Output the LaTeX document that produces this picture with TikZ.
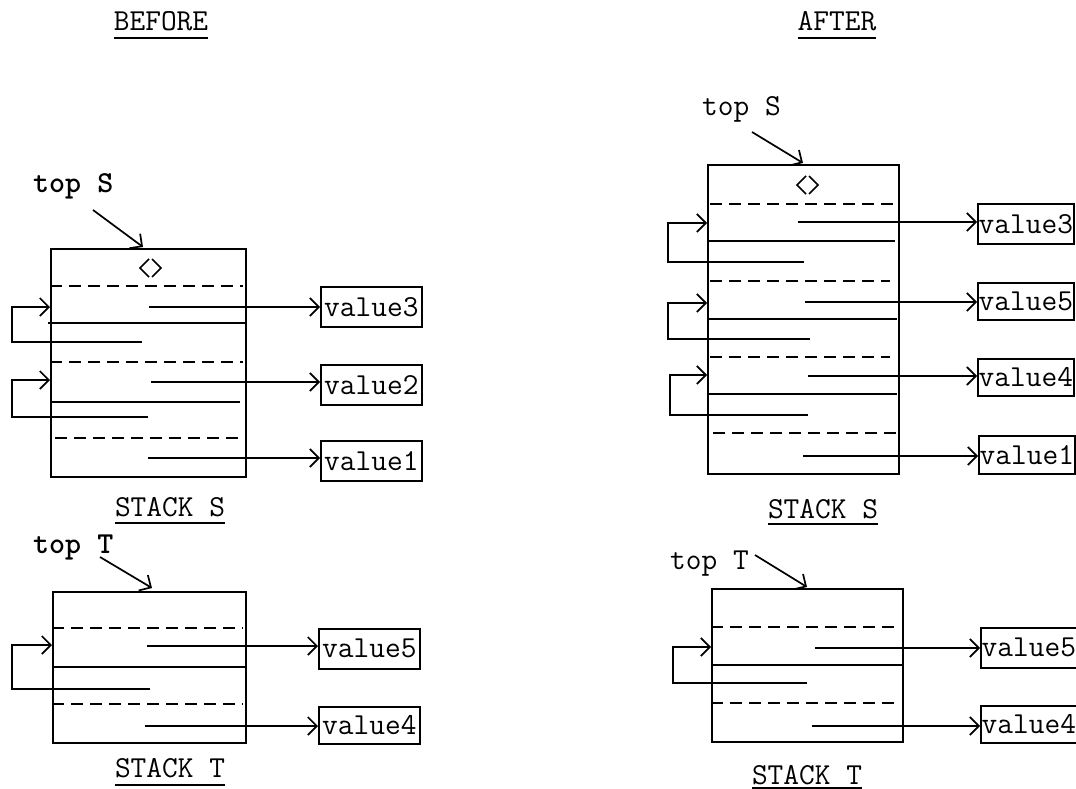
\documentclass[tikz,border=0pt]{standalone}
\usepackage{fontspec}
\usetikzlibrary{arrows.meta}
\tikzset{
  ln/.style={line width=1.7pt},
  dsh/.style={line width=1.5pt, dash pattern=on 12pt off 7pt},
  ptr/.style={line width=1.7pt, -{Straight Barb[length=9pt,width=18pt,line width=1.7pt]}},
  txt/.style={font=\ttfamily\fontsize{30.5}{32}\selectfont, inner sep=0pt},
  valbox/.style={txt, draw, line width=1.7pt, anchor=north west, minimum width=101pt, minimum height=40pt, inner xsep=1pt},
  valboxr/.style={valbox, minimum width=96pt, inner xsep=0.5pt},
  stackbox/.style={draw, line width=1.7pt, anchor=north west, inner sep=0pt},
  diam/.pic={\draw[ln] (-1,-9) -- (-10,0) -- (-1,9); \draw[ln] (2,-9) -- (11,0) -- (2,9);}
}
\begin{document}
\begin{tikzpicture}[x=1pt,y=-1pt]
\useasboundingbox (0,0) rectangle (1076,789);

% titles
\node[txt, anchor=base] (tB) at (161,31) {BEFORE};
\draw[ln] ([yshift=-7pt]tB.base west) -- ([yshift=-7pt]tB.base east);
\node[txt, anchor=base] (tA) at (837,31) {AFTER};
\draw[ln] ([yshift=-7pt]tA.base west) -- ([yshift=-7pt]tA.base east);

% ================= BEFORE: STACK S =================
\node[stackbox, minimum width=195pt, minimum height=228pt] (bS) at (50,248) {};
\node[txt, anchor=base west, font=\ttfamily\bfseries\fontsize{30.5}{32}\selectfont] (btS) at (33,192) {top S};
\coordinate (btSa) at (93,210);
\draw[ptr] (btSa) -- (143,247);
\pic at (150,268) {diam};
\node[valbox] (bv3) at (320,286) {value3};
\node[valbox] (bv2) at (320,364) {value2};
\node[valbox] (bv1) at (320,440) {value1};
\draw[dsh] (50,286) -- (243,286);
\coordinate (bs1) at (149,307);
\draw[ptr] (bs1) -- (bs1 -| bv3.west);
\draw[ln] (48,323) -- (245,323);
\coordinate (bl1) at (142,342);
\draw[ptr] (bl1) -- (12,342) -- (12,307) -- (50,307);
\draw[dsh] (50,362) -- (243,362);
\coordinate (bs2) at (151,382);
\draw[ptr] (bs2) -- (bs2 -| bv2.west);
\draw[ln] (50,402) -- (240,402);
\coordinate (bl2) at (148,417);
\draw[ptr] (bl2) -- (12,417) -- (12,380) -- (50,380);
\draw[dsh] (55,438) -- (243,438);
\coordinate (bs3) at (148,458);
\draw[ptr] (bs3) -- (bs3 -| bv1.west);
\node[txt, anchor=base] (bSl) at (170,516) {STACK S};
\draw[ln] ([yshift=-7pt]bSl.base west) -- ([yshift=-7pt]bSl.base east);

% ================= BEFORE: STACK T =================
\node[stackbox, minimum width=193pt, minimum height=151pt] (bT) at (52,591) {};
\node[txt, anchor=base west, font=\ttfamily\bfseries\fontsize{30.5}{32}\selectfont] (btT) at (33,553) {top T};
\coordinate (btTa) at (100,557);
\draw[ptr] (btTa) -- (152,588);
\node[valbox] (bv5) at (318,628) {value5};
\node[valbox, minimum height=37pt] (bv4) at (318,706) {value4};
\draw[dsh] (52,628) -- (243,628);
\coordinate (bt1) at (147,646);
\draw[ptr] (bt1) -- (bt1 -| bv5.west);
\draw[ln] (52,667) -- (245,667);
\coordinate (btl1) at (150,689);
\draw[ptr] (btl1) -- (12,689) -- (12,645) -- (52,645);
\draw[dsh] (52,704) -- (243,704);
\coordinate (bt2) at (145,726);
\draw[ptr] (bt2) -- (bt2 -| bv4.west);
\node[txt, anchor=base] (bTl) at (170,777) {STACK T};
\draw[ln] ([yshift=-8pt]bTl.base west) -- ([yshift=-8pt]bTl.base east);

% ================= AFTER: STACK S =================
\node[stackbox, minimum width=191pt, minimum height=309pt] (aS) at (707,164) {};
\node[txt, anchor=base west] (atS) at (702,116) {top S};
\coordinate (atSa) at (752,132);
\draw[ptr] (atSa) -- (803,163);
\pic at (807,185) {diam};
\node[valboxr] (av3) at (977,203) {value3};
\node[valboxr, minimum height=37pt] (av5) at (977,282) {value5};
\node[valboxr, minimum height=37pt] (av4) at (977,358) {value4};
\node[valboxr, minimum height=38pt] (av1) at (978,435) {value1};
\draw[dsh] (710,204) -- (893,204);
\coordinate (as1) at (798,222);
\draw[ptr] (as1) -- (as1 -| av3.west);
\draw[ln] (707,241) -- (895,241);
\coordinate (al1) at (804,262);
\draw[ptr] (al1) -- (668,262) -- (668,223) -- (707,223);
\draw[dsh] (710,281) -- (890,281);
\coordinate (as2) at (805,302);
\draw[ptr] (as2) -- (as2 -| av5.west);
\draw[ln] (707,319) -- (897,319);
\coordinate (al2) at (810,339);
\draw[ptr] (al2) -- (668,339) -- (668,303) -- (707,303);
\draw[dsh] (710,357) -- (890,357);
\coordinate (as3) at (808,376);
\draw[ptr] (as3) -- (as3 -| av4.west);
\draw[ln] (707,394) -- (897,394);
\coordinate (al3) at (808,415);
\draw[ptr] (al3) -- (670,415) -- (670,375) -- (707,375);
\draw[dsh] (713,433) -- (897,433);
\coordinate (as4) at (803,456);
\draw[ptr] (as4) -- (as4 -| av1.west);
\node[txt, anchor=base] (aSl) at (823,518) {STACK S};
\draw[ln] ([yshift=-6pt]aSl.base west) -- ([yshift=-6pt]aSl.base east);

% ================= AFTER: STACK T =================
\node[stackbox, minimum width=191pt, minimum height=153pt] (aT) at (711,588) {};
\node[txt, anchor=base west] (atT) at (670,569) {top T};
\coordinate (atTa) at (755,555);
\draw[ptr] (atTa) -- (807,587);
\node[valboxr] (av5t) at (980,627) {value5};
\node[valboxr, minimum height=37pt] (av4t) at (980,705) {value4};
\draw[dsh] (711,627) -- (900,627);
\coordinate (at1) at (815,648);
\draw[ptr] (at1) -- (at1 -| av5t.west);
\draw[ln] (711,665) -- (902,665);
\coordinate (atl1) at (807,683);
\draw[ptr] (atl1) -- (673,683) -- (673,647) -- (711,647);
\draw[dsh] (711,703) -- (900,703);
\coordinate (at2) at (812,726);
\draw[ptr] (at2) -- (at2 -| av4t.west);
\node[txt, anchor=base] (aTl) at (807,784) {STACK T};
\draw[ln] ([yshift=-4pt]aTl.base west) -- ([yshift=-4pt]aTl.base east);
\end{tikzpicture}
\end{document}
